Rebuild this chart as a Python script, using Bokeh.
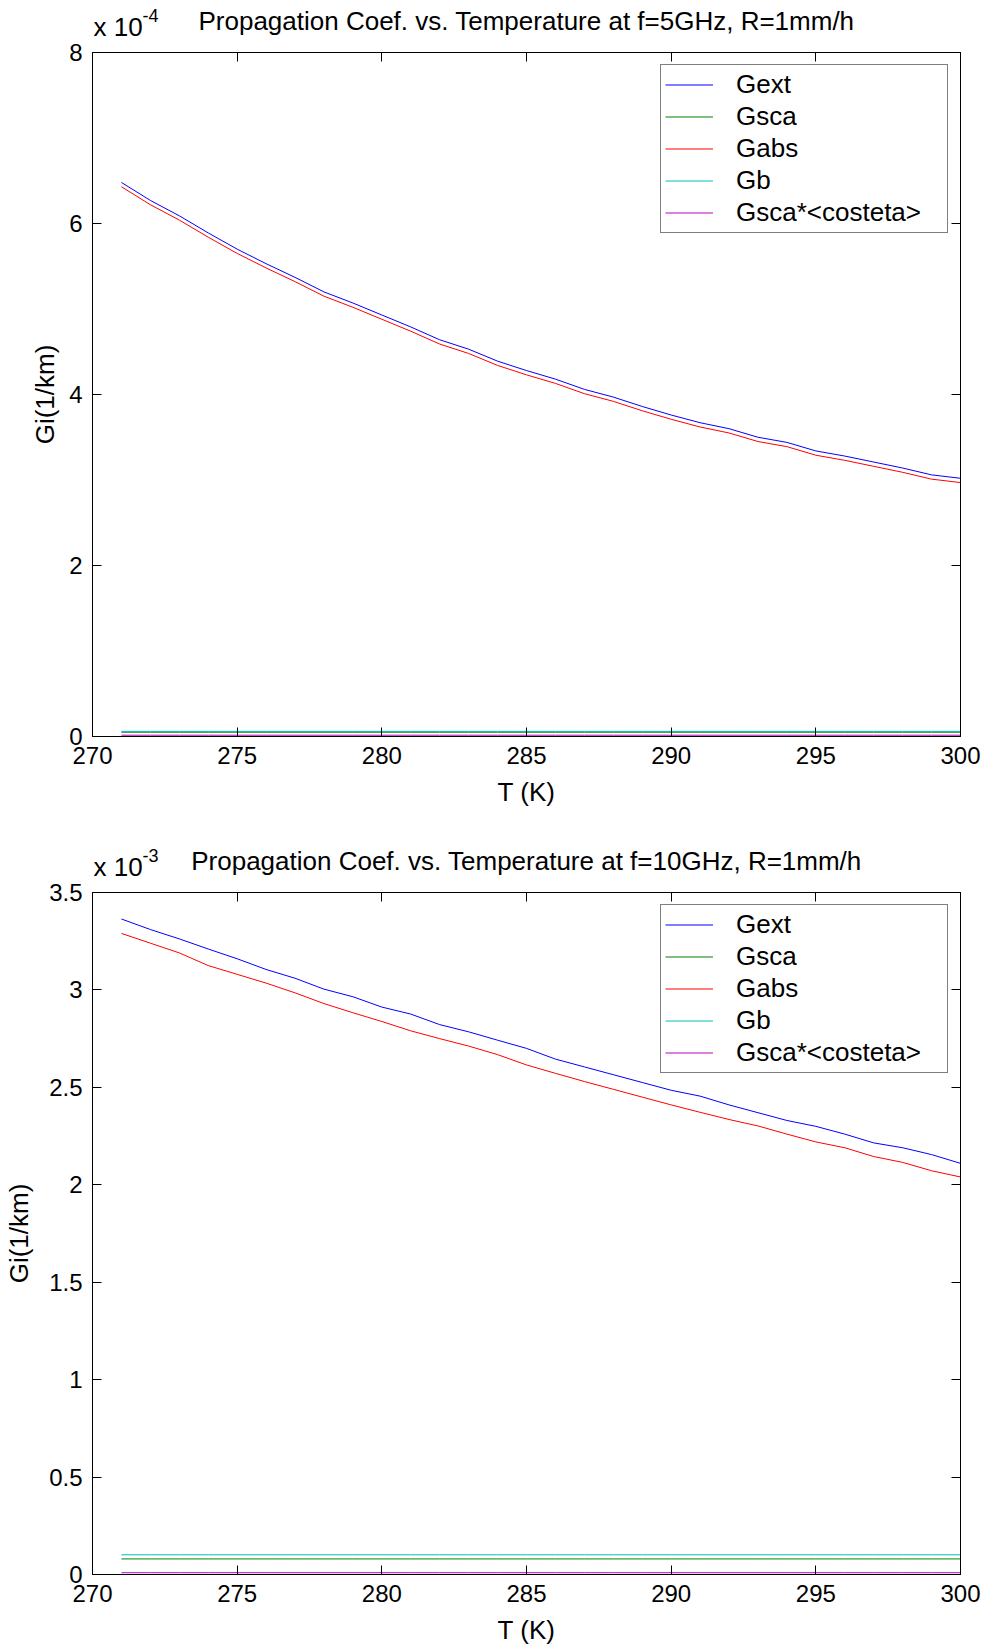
from bokeh.plotting import figure
from bokeh.models import (Range1d, LinearAxis, Legend, LegendItem,
                          FixedTicker, NumeralTickFormatter, CustomJSTickFormatter)
from bokeh.core.properties import value
from bokeh.layouts import column
from bokeh.embed import file_html
from bokeh.resources import INLINE

FONT = "Liberation Sans"

# Temperature grid (K)
temperature = [271, 272, 273, 274, 275, 276, 277, 278, 279, 280,
               281, 282, 283, 284, 285, 286, 287, 288, 289, 290,
               291, 292, 293, 294, 295, 296, 297, 298, 299, 300]

# f = 5 GHz, R = 1 mm/h  -- values in units of 1e-4 1/km
gext_5 = [6.48, 6.27, 6.09, 5.89, 5.70, 5.53, 5.37, 5.20, 5.07, 4.93,
          4.79, 4.64, 4.53, 4.39, 4.28, 4.18, 4.06, 3.97, 3.86, 3.76,
          3.67, 3.60, 3.50, 3.44, 3.34, 3.28, 3.21, 3.14, 3.06, 3.02]
gsca_5 = [0.05, 0.05, 0.05, 0.05, 0.05, 0.05, 0.05, 0.05, 0.05, 0.05,
          0.05, 0.05, 0.05, 0.05, 0.05, 0.05, 0.05, 0.05, 0.05, 0.05,
          0.05, 0.05, 0.05, 0.05, 0.05, 0.05, 0.05, 0.05, 0.05, 0.05]
gabs_5 = [6.43, 6.22, 6.04, 5.84, 5.65, 5.48, 5.32, 5.15, 5.02, 4.88,
          4.74, 4.59, 4.48, 4.34, 4.23, 4.13, 4.01, 3.92, 3.81, 3.71,
          3.62, 3.55, 3.45, 3.39, 3.29, 3.23, 3.16, 3.09, 3.01, 2.97]
gb_5 = [0.06, 0.06, 0.06, 0.06, 0.06, 0.06, 0.06, 0.06, 0.06, 0.06,
        0.06, 0.06, 0.06, 0.06, 0.06, 0.06, 0.06, 0.06, 0.06, 0.06,
        0.06, 0.06, 0.06, 0.06, 0.06, 0.06, 0.06, 0.06, 0.06, 0.06]
gcos_5 = [0.015, 0.015, 0.015, 0.015, 0.015, 0.015, 0.015, 0.015, 0.015, 0.015,
          0.015, 0.015, 0.015, 0.015, 0.015, 0.015, 0.015, 0.015, 0.015, 0.015,
          0.015, 0.015, 0.015, 0.015, 0.015, 0.015, 0.015, 0.015, 0.015, 0.015]

# f = 10 GHz, R = 1 mm/h  -- values in units of 1e-3 1/km
gext_10 = [3.364, 3.310, 3.262, 3.210, 3.160, 3.105, 3.060, 3.004, 2.965, 2.912,
           2.876, 2.822, 2.785, 2.742, 2.700, 2.645, 2.605, 2.565, 2.525, 2.485,
           2.455, 2.410, 2.370, 2.330, 2.300, 2.260, 2.215, 2.190, 2.155, 2.110]
gsca_10 = [0.080, 0.080, 0.080, 0.080, 0.080, 0.080, 0.080, 0.080, 0.080, 0.080,
           0.080, 0.080, 0.080, 0.080, 0.080, 0.080, 0.080, 0.080, 0.080, 0.080,
           0.080, 0.080, 0.080, 0.080, 0.080, 0.080, 0.080, 0.080, 0.080, 0.080]
gabs_10 = [3.290, 3.240, 3.190, 3.125, 3.080, 3.035, 2.985, 2.930, 2.883, 2.838,
           2.790, 2.750, 2.712, 2.668, 2.615, 2.572, 2.530, 2.490, 2.450, 2.410,
           2.372, 2.335, 2.302, 2.260, 2.220, 2.190, 2.145, 2.115, 2.072, 2.040]
gb_10 = [0.101, 0.101, 0.101, 0.101, 0.101, 0.101, 0.101, 0.101, 0.101, 0.101,
         0.101, 0.101, 0.101, 0.101, 0.101, 0.101, 0.101, 0.101, 0.101, 0.101,
         0.101, 0.101, 0.101, 0.101, 0.101, 0.101, 0.101, 0.101, 0.101, 0.101]
gcos_10 = [0.009, 0.009, 0.009, 0.009, 0.009, 0.009, 0.009, 0.009, 0.009, 0.009,
           0.009, 0.009, 0.009, 0.009, 0.009, 0.009, 0.009, 0.009, 0.009, 0.009,
           0.009, 0.009, 0.009, 0.009, 0.009, 0.009, 0.009, 0.009, 0.009, 0.009]

x_ticks = [270, 275, 280, 285, 290, 295, 300]
y_ticks_5 = [0, 2, 4, 6, 8]
y_ticks_10 = [0, 0.5, 1, 1.5, 2, 2.5, 3, 3.5]

series_names = ["Gext", "Gsca", "Gabs", "Gb", "Gsca*<costeta>"]
series_colors = ["#0000ff", "#008000", "#ff0000", "#00bfbf", "#bf00bf"]

X_MIN, X_MAX = 270, 300


def style_axis(ax, ticks, show_labels):
    ax.ticker = FixedTicker(ticks=ticks)
    ax.axis_line_color = "black"
    ax.axis_line_width = 1
    ax.major_tick_line_color = "black"
    ax.major_tick_in = 9
    ax.major_tick_out = 0
    ax.minor_tick_line_color = None
    ax.major_label_text_font = FONT
    ax.major_label_text_font_size = "24px"
    ax.major_label_text_color = "black"
    ax.axis_label_text_font = FONT
    ax.axis_label_text_font_size = "26px"
    ax.axis_label_text_font_style = "normal"
    ax.axis_label_text_color = "black"
    if not show_labels:
        ax.formatter = CustomJSTickFormatter(code="return ''")
        ax.major_label_standoff = 0
        ax.major_label_text_font_size = "0px"


def make_header(title, exponent, height):
    """Title line above a panel: centred title plus the 'x 10^n' multiplier.

    y is measured in pixels up from the bottom of the strip; texts are
    vertically centred on their y position.
    """
    h = figure(width=986, height=height, output_backend="svg", title=None,
               toolbar_location=None, x_axis_type=None, y_axis_type=None,
               x_range=Range1d(X_MIN, X_MAX), y_range=Range1d(0, height),
               min_border_left=92, min_border_right=26,
               min_border_top=0, min_border_bottom=0)
    h.outline_line_color = None
    h.xgrid.visible = False
    h.ygrid.visible = False
    h.text(x=[(X_MIN + X_MAX) / 2], y=[20], text=[title],
           text_align="center", text_baseline="middle",
           text_font=value(FONT), text_font_size="26px", text_color="black")
    h.text(x=[X_MIN], y=[14], x_offset=1, text=["x 10"],
           text_align="left", text_baseline="middle",
           text_font=value(FONT), text_font_size="26px", text_color="black")
    h.text(x=[X_MIN], y=[25], x_offset=50, text=[exponent],
           text_align="left", text_baseline="middle",
           text_font=value(FONT), text_font_size="18px", text_color="black")
    return h


def make_panel(series, y_max, y_ticks, y_fmt, height, border_bottom,
               ylabel_standoff):
    p = figure(width=986, height=height, output_backend="svg", title=None,
               toolbar_location=None,
               x_range=Range1d(X_MIN, X_MAX), y_range=Range1d(0, y_max),
               min_border_left=92, min_border_right=26,
               min_border_top=12, min_border_bottom=border_bottom)
    p.background_fill_color = "white"
    p.border_fill_color = "white"
    p.outline_line_color = "black"
    p.outline_line_width = 1
    p.xgrid.visible = False
    p.ygrid.visible = False

    style_axis(p.xaxis[0], x_ticks, True)
    style_axis(p.yaxis[0], y_ticks, True)
    p.xaxis[0].major_label_standoff = 10
    p.xaxis[0].axis_label = "T (K)"
    p.xaxis[0].axis_label_standoff = 10
    p.yaxis[0].major_label_standoff = 10
    p.yaxis[0].axis_label = "Gi(1/km)"
    p.yaxis[0].axis_label_standoff = ylabel_standoff
    p.yaxis[0].formatter = y_fmt

    top_axis = LinearAxis()
    right_axis = LinearAxis()
    style_axis(top_axis, x_ticks, False)
    style_axis(right_axis, y_ticks, False)
    p.add_layout(top_axis, "above")
    p.add_layout(right_axis, "right")

    items = []
    for name, color, values in zip(series_names, series_colors, series):
        r = p.line(temperature, values, line_color=color, line_width=1)
        items.append(LegendItem(label=name, renderers=[r]))

    legend = Legend(items=items, location="top_right", margin=12,
                    padding=4, spacing=1,
                    glyph_width=48, glyph_height=31, label_height=31,
                    label_width=207, label_standoff=23,
                    label_text_font=FONT, label_text_font_size="26px",
                    label_text_color="black",
                    border_line_color="black", border_line_width=1,
                    background_fill_color="white", background_fill_alpha=1)
    p.add_layout(legend)
    return p


h_top = make_header("Propagation Coef. vs. Temperature at f=5GHz, R=1mm/h",
                    "-4", 40)
p_top = make_panel([gext_5, gsca_5, gabs_5, gb_5, gcos_5], 8, y_ticks_5,
                   NumeralTickFormatter(format="0"), 772, 76, 6)
h_bot = make_header("Propagation Coef. vs. Temperature at f=10GHz, R=1mm/h",
                    "-3", 68)
p_bot = make_panel([gext_10, gsca_10, gabs_10, gb_10, gcos_10], 3.5, y_ticks_10,
                   NumeralTickFormatter(format="0.[0]"), 767, 71, 12)

layout = column(h_top, p_top, h_bot, p_bot, spacing=0)

with open("out.html", "w") as f:
    f.write(file_html(layout, INLINE))
